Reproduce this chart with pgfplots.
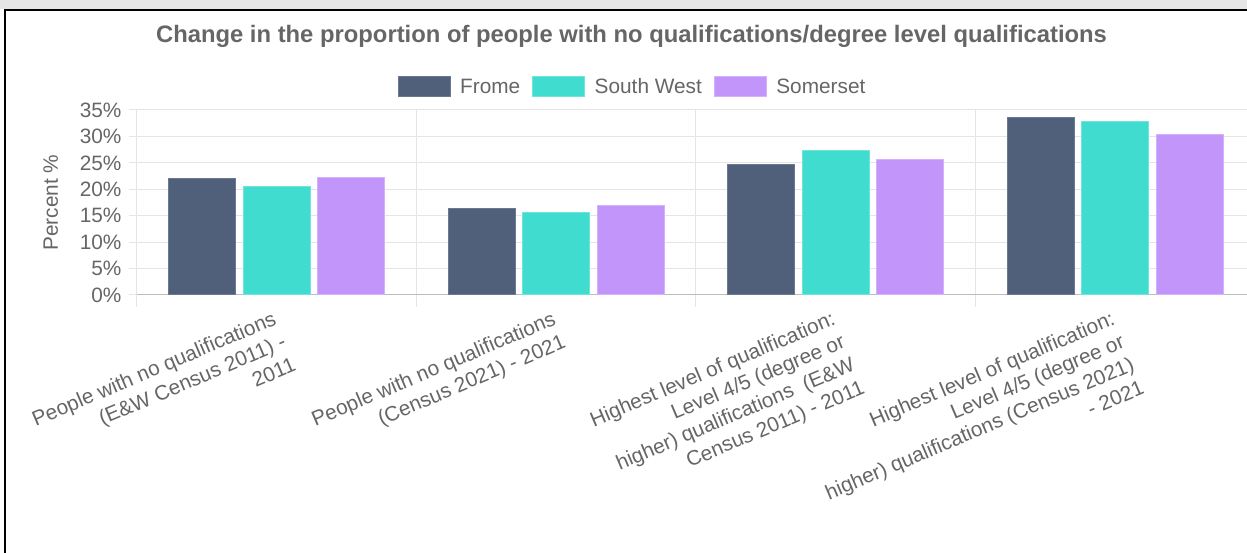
\documentclass[border=0pt]{standalone}
\usepackage{pgfplots}
\pgfplotsset{compat=1.18}
\usepackage{fontspec}
\setmainfont{Liberation Sans}
\definecolor{frome}{HTML}{505F7A}
\definecolor{fromeedge}{HTML}{6A7891}
\definecolor{sw}{HTML}{40DCCF}
\definecolor{swedge}{HTML}{6FE6DC}
\definecolor{som}{HTML}{C295FA}
\definecolor{somedge}{HTML}{D3B2FB}
\definecolor{txtgrey}{HTML}{666666}
\definecolor{gridgrey}{HTML}{E5E5E5}
\definecolor{axisgrey}{HTML}{BDBDBD}
\definecolor{bandgrey}{HTML}{E6E6E6}
\newcommand{\fs}{\fontsize{20.8pt}{25pt}\selectfont}
\begin{document}
\begin{tikzpicture}
\useasboundingbox (0,0) rectangle (1247pt,553pt);
\fill[white] (0,0) rectangle (1247pt,553pt);
\fill[bandgrey] (0,544pt) rectangle (1247pt,553pt);
\draw[black, line width=2pt] (5pt,0) -- (5pt,543pt) -- (1247pt,543pt);
\node[font=\fontsize{23.8pt}{28pt}\selectfont\bfseries, text=txtgrey] at (631.5pt,517pt) {Change in the proportion of people with no qualifications/degree level qualifications};
\begin{axis}[
  at={(137pt,258pt)}, anchor=south west,
  width=1110pt, height=185pt, scale only axis,
  xmin=-0.5, xmax=3.4714, ymin=0, ymax=35,
  axis x line*=bottom, axis y line*=left,
  x axis line style={axisgrey, line width=1pt},
  y axis line style={gridgrey, line width=1pt},
  ybar=7.5pt, bar width=67pt,
  xtick={0,1,2,3},
  xticklabels={
    {People with no qualifications\\(E\&W Census 2011) -\\2011},
    {People with no qualifications\\(Census 2021) - 2021},
    {Highest level of qualification:\\Level 4/5 (degree or\\higher) qualifications \ (E\&W\\Census 2011) - 2011},
    {Highest level of qualification:\\Level 4/5 (degree or\\higher) qualifications (Census 2021)\\- 2021}},
  minor xtick={-0.5,0.5,1.5,2.5},
  xminorgrids=true, ymajorgrids=true,
  grid style={gridgrey, line width=1pt},
  minor grid style={gridgrey, line width=1pt},
  tick align=outside,
  major tick length=8pt, minor tick length=12pt,
  major x tick style={draw=none},
  minor x tick style={gridgrey, line width=1pt},
  ytick={0,5,...,35},
  ytick style={gridgrey, line width=1pt},
  yticklabel={\pgfmathprintnumber{\tick}\%},
  /pgf/number format/assume math mode=true,
  tick label style={font=\fs, text=txtgrey},
  yticklabel style={xshift=-4pt},
  xticklabel style={xshift=-5pt, yshift=-7pt, rotate=23, anchor=north east, align=right, inner sep=0pt},
  ylabel={Percent \%},
  ylabel shift=15pt,
  ylabel style={font=\fs, text=txtgrey},
  legend style={at={(0.4464,1)}, anchor=center, yshift=23pt, draw=none, fill=none,
    font=\fs, text=txtgrey, legend columns=3,
    /tikz/every even column/.append style={column sep=10pt}},
  legend image code/.code={\draw[#1] (0pt,-10pt) rectangle (52pt,10pt); \path[draw=none, fill=none] (0pt,0pt) -- (60pt,0pt);},
]
\addplot[fill=frome, draw=fromeedge, line width=1pt] coordinates {(0,22.0) (1,16.3) (2,24.6) (3,33.6)};
\addplot[fill=sw, draw=swedge, line width=1pt] coordinates {(0,20.6) (1,15.6) (2,27.3) (3,32.9)};
\addplot[fill=som, draw=somedge, line width=1pt] coordinates {(0,22.3) (1,17.0) (2,25.6) (3,30.4)};
\legend{Frome, South West, Somerset}
\end{axis}
\end{tikzpicture}
\end{document}
